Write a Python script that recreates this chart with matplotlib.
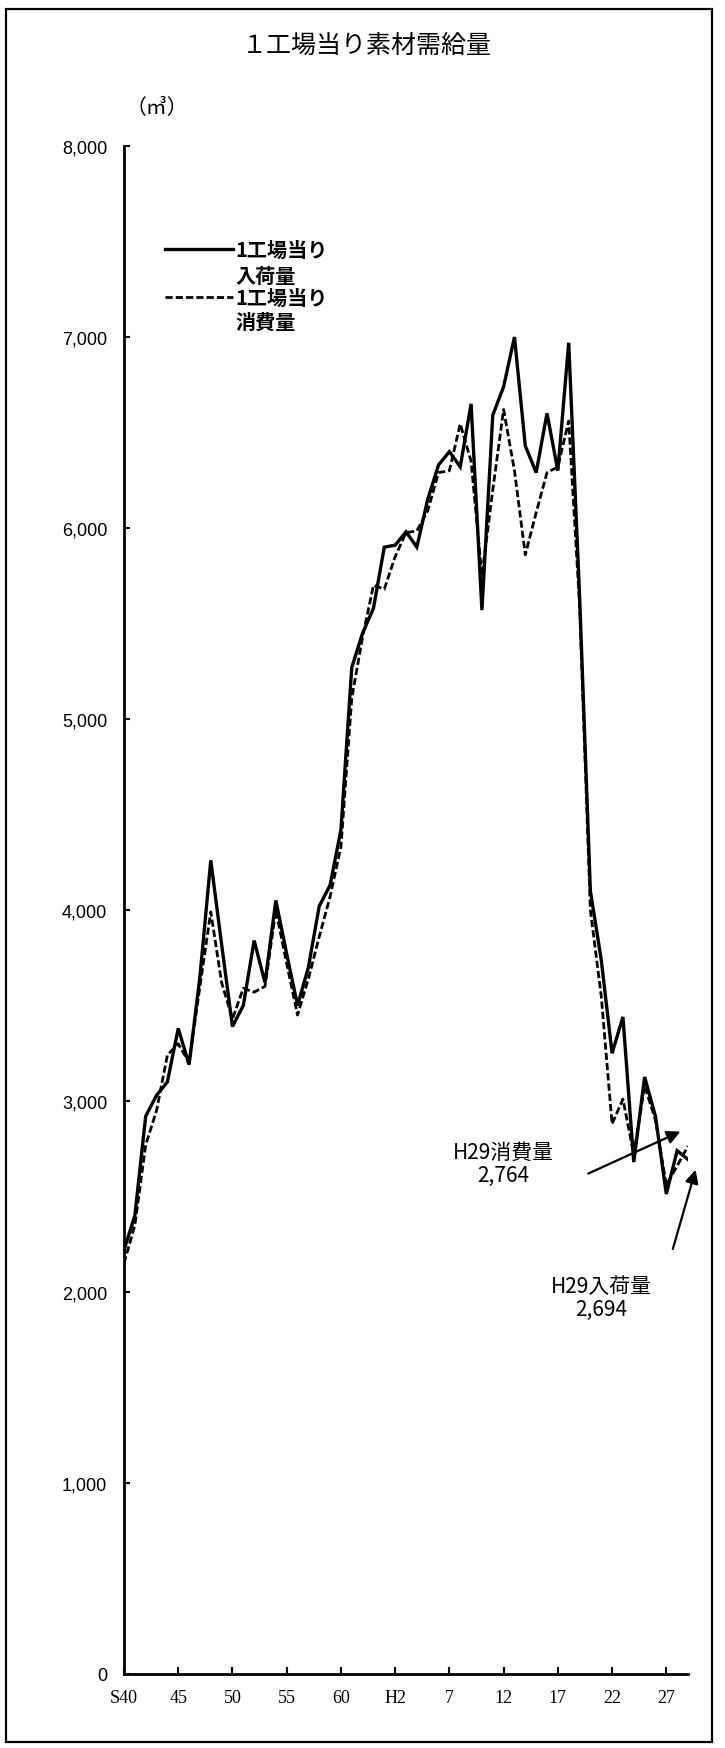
import matplotlib
matplotlib.use("Agg")
from matplotlib import pyplot as plt
from matplotlib.patches import Rectangle
from matplotlib.ticker import FuncFormatter

# 年度 S40(1965) ～ H29(2017)
years = list(range(1965, 2018))

# 1工場当り入荷量 (㎥)
nyuka = [2220, 2400, 2920, 3030, 3100, 3380, 3190, 3650, 4260, 3820,
         3390, 3500, 3840, 3620, 4050, 3770, 3500, 3700, 4020, 4130,
         4420, 5270, 5450, 5580, 5900, 5910, 5980, 5900, 6150, 6330,
         6400, 6320, 6650, 5570, 6590, 6740, 7000, 6430, 6290, 6600,
         6300, 6970, 5650, 4100, 3740, 3250, 3440, 2680, 3126, 2920,
         2513, 2740, 2694]

# 1工場当り消費量 (㎥)
shohi = [2150, 2350, 2770, 2950, 3240, 3300, 3200, 3600, 3990, 3620,
         3430, 3590, 3570, 3600, 4000, 3720, 3450, 3640, 3860, 4070,
         4330, 5110, 5430, 5700, 5680, 5850, 5975, 5985, 6090, 6290,
         6300, 6545, 6350, 5750, 6200, 6620, 6300, 5860, 6080, 6290,
         6320, 6560, 5600, 4000, 3550, 2880, 3010, 2720, 3080, 2900,
         2560, 2660, 2764]

tick_years = [1965, 1970, 1975, 1980, 1985, 1990, 1995, 2000, 2005, 2010, 2015]
tick_labels = ["S40", "45", "50", "55", "60", "H2", "7", "12", "17", "22", "27"]

jp = ["Noto Sans CJK JP", "DejaVu Sans"]

fig = plt.figure(figsize=(7.25, 17.49), dpi=100)
ax = fig.add_axes([124 / 725, 74 / 1749, 564 / 725, 1528 / 1749])

ax.plot(years, nyuka, color="black", lw=2.4, solid_joinstyle="miter")
ax.plot(years, shohi, color="black", lw=2.0, dashes=(2.6, 1.1))

ax.set_xlim(1965, 2017)
ax.set_ylim(0, 8000)

for s in ["top", "right"]:
    ax.spines[s].set_visible(False)
for s in ["left", "bottom"]:
    ax.spines[s].set_linewidth(2.0)

ax.set_yticks(range(0, 8001, 1000))
ax.yaxis.set_major_formatter(FuncFormatter(lambda v, p: f"{int(v):,}"))
ax.tick_params(axis="y", direction="in", length=4, width=1.5, pad=12,
               labelsize=13)
for lab in ax.get_yticklabels():
    lab.set_family("Liberation Sans")

ax.set_xticks(tick_years)
ax.set_xticklabels(tick_labels, family="Liberation Serif", fontsize=13)
ax.tick_params(axis="x", direction="in", length=5, width=1.5, pad=11)

# 凡例（手描き）
tr = ax.transAxes
ax.plot([0.073, 0.193], [0.9326, 0.9326], color="black", lw=2.4, transform=tr, clip_on=False)
ax.text(0.197, 0.9326, "1工場当り", transform=tr, va="center", ha="left",
        family=jp, fontsize=14.5, fontweight="bold")
ax.text(0.197, 0.9150, "入荷量", transform=tr, va="center", ha="left",
        family=jp, fontsize=14.5, fontweight="bold")
ax.plot([0.073, 0.193], [0.9012, 0.9012], color="black", lw=2.0, dashes=(2.6, 1.1),
        transform=tr, clip_on=False)
ax.text(0.197, 0.9012, "1工場当り", transform=tr, va="center", ha="left",
        family=jp, fontsize=14.5, fontweight="bold")
ax.text(0.197, 0.8850, "消費量", transform=tr, va="center", ha="left",
        family=jp, fontsize=14.5, fontweight="bold")

# 注記
arrow = dict(arrowstyle="-|>", color="black", lw=1.6, mutation_scale=20,
             shrinkA=0, shrinkB=0)
ax.annotate("", xy=(2016.3, 2840), xytext=(2007.8, 2620), arrowprops=arrow,
            annotation_clip=False)
ax.annotate("", xy=(2017.7, 2640), xytext=(2015.6, 2225), arrowprops=arrow,
            annotation_clip=False)
ax.text(2000.0, 2675, "H29消費量\n2,764", ha="center", va="center",
        family=jp, fontsize=15, linespacing=1.05)
ax.text(2009.0, 1970, "H29入荷量\n2,694", ha="center", va="center",
        family=jp, fontsize=15, linespacing=1.05)

fig.text(0.506, 0.974, "１工場当り素材需給量", ha="center", va="center",
         family=jp, fontsize=18)
fig.text(0.217, 0.938, "（㎥）", ha="center", va="center", family=jp, fontsize=15)

fig.patches.append(Rectangle((6 / 725, 6 / 1749), 706 / 725, 1733 / 1749,
                             transform=fig.transFigure, fill=False,
                             edgecolor="black", lw=1.6))

fig.savefig("out.png", dpi=100)
